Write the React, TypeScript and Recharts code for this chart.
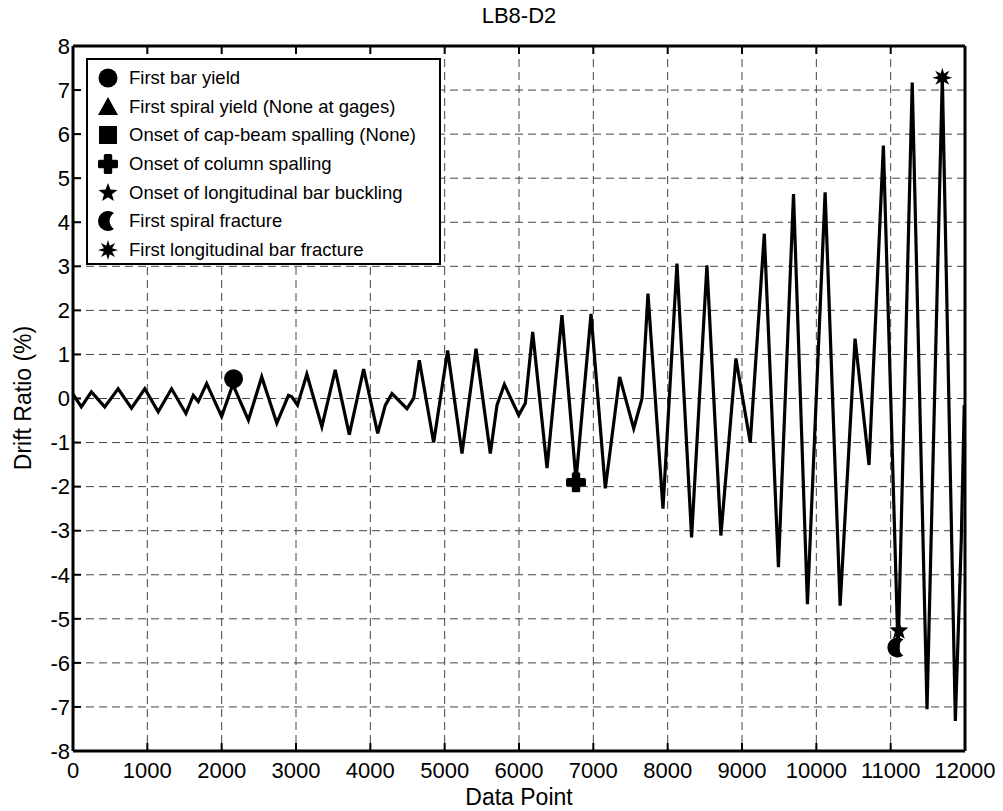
import { ComposedChart, Line, Scatter, XAxis, YAxis, CartesianGrid } from 'recharts';

// turning points of the loading history (data point index, drift ratio %)
const pointIndex = [
  0, 112, 247, 427, 607, 787, 966, 1146, 1326, 1519, 1618, 1685, 1798, 2000, 2150,
  2360, 2539, 2742, 2899, 2944, 3020, 3146, 3348, 3528, 3717, 3910, 4099, 4202, 4291,
  4493, 4583, 4659, 4852, 5040, 5233, 5422, 5614, 5704, 5803, 5996, 6085, 6184, 6377,
  6578, 6767, 6969, 7161, 7354, 7543, 7655, 7735, 7937, 8125, 8322, 8528, 8716, 8918,
  9111, 9300, 9490, 9693, 9880, 10118, 10320, 10521, 10709, 10902, 11100, 11290, 11489,
  11695, 11870, 11950, 11990,
];
const driftRatio = [
  0.1, -0.19, 0.15, -0.19, 0.22, -0.22, 0.22, -0.3, 0.22, -0.34, 0.07, -0.07, 0.34, -0.41, 0.32,
  -0.49, 0.49, -0.56, 0.07, 0.04, -0.15, 0.55, -0.64, 0.65, -0.82, 0.67, -0.79, -0.15, 0.11,
  -0.23, 0.0, 0.87, -1.0, 1.09, -1.25, 1.13, -1.25, -0.15, 0.32, -0.38, -0.11, 1.51, -1.58,
  1.89, -1.85, 1.92, -2.04, 0.49, -0.68, 0.0, 2.38, -2.5, 3.06, -3.15, 3.02, -3.11, 0.91,
  -1.0, 3.74, -3.83, 4.64, -4.67, 4.68, -4.7, 1.36, -1.51, 5.74, -5.75, 7.17, -7.05,
  7.3, -7.32, -3.2, -0.15,
];

// damage events
const legendNames = [
  'First bar yield',
  'First spiral yield (None at gages)',
  'Onset of cap-beam spalling (None)',
  'Onset of column spalling',
  'Onset of longitudinal bar buckling',
  'First spiral fracture',
  'First longitudinal bar fracture',
];
const legendShapes = ['circle', 'triangle', 'square', 'plus', 'star', 'moon', 'asterisk'];
const eventShapes = ['circle', 'plus', 'star', 'moon', 'asterisk'];
const eventX = [2160, 6767, 11110, 11090, 11695];
const eventY = [0.45, -1.9, -5.27, -5.65, 7.28];

const xTicks = [0, 1000, 2000, 3000, 4000, 5000, 6000, 7000, 8000, 9000, 10000, 11000, 12000];
const yTicks = [-8, -7, -6, -5, -4, -3, -2, -1, 0, 1, 2, 3, 4, 5, 6, 7, 8];

const lineRows = pointIndex.map((x, i) => ({ x, drift: driftRatio[i] }));
const eventRows = eventX.map((x, i) => ({ x, drift: eventY[i], shape: eventShapes[i] }));

const FONT = '"Liberation Sans", Arial, Helvetica, sans-serif';

function starPoints(cx: number, cy: number, n: number, ro: number, ri: number) {
  const pts: string[] = [];
  for (let i = 0; i < n * 2; i++) {
    const a = -Math.PI / 2 + (i * Math.PI) / n;
    const r = i % 2 === 0 ? ro : ri;
    pts.push(`${cx + r * Math.cos(a)},${cy + r * Math.sin(a)}`);
  }
  return pts.join(' ');
}

function Glyph({ shape, cx, cy, s = 10 }: { shape: string; cx: number; cy: number; s?: number }) {
  switch (shape) {
    case 'circle':
      return <circle cx={cx} cy={cy} r={s * 0.95} fill="#000" />;
    case 'triangle':
      return <polygon points={`${cx},${cy - s} ${cx + s},${cy + s * 0.8} ${cx - s},${cy + s * 0.8}`} fill="#000" />;
    case 'square':
      return <rect x={cx - s * 0.9} y={cy - s * 0.9} width={s * 1.8} height={s * 1.8} fill="#000" />;
    case 'plus':
      return (
        <g fill="#000">
          <rect x={cx - s} y={cy - s * 0.42} width={s * 2} height={s * 0.84} rx={1.5} />
          <rect x={cx - s * 0.42} y={cy - s} width={s * 0.84} height={s * 2} rx={1.5} />
        </g>
      );
    case 'star':
      return <polygon points={starPoints(cx, cy, 5, s, s * 0.42)} fill="#000" />;
    case 'moon':
      return (
        <path
          d={`M ${cx + 6} ${cy - 8} A 10 10 0 1 0 ${cx + 6} ${cy + 8} A 9.5 9.5 0 0 1 ${cx + 6} ${cy - 8} Z`}
          fill="#000"
        />
      );
    case 'asterisk':
      return <polygon points={starPoints(cx, cy, 8, s, s * 0.45)} fill="#000" />;
    default:
      return null;
  }
}

const tickStyle = { fontSize: 22, fill: '#000', fontFamily: FONT };
const axisLine = { stroke: '#000', strokeWidth: 3 };
const tickLine = { stroke: '#000', strokeWidth: 2 };

export default function App() {
  return (
    <div style={{ position: 'absolute', left: 0, top: 0, width: 1003, height: 811, background: '#fff', fontFamily: FONT }}>
      <ComposedChart width={1003} height={811} data={lineRows} margin={{ top: 26, right: 18, bottom: 10, left: 13 }}>
        <CartesianGrid stroke="#444" strokeWidth={1} strokeDasharray="8 5" />
        <XAxis
          dataKey="x"
          type="number"
          domain={[0, 12000]}
          ticks={xTicks}
          interval={0}
          height={50}
          tick={tickStyle}
          tickSize={-8}
          tickMargin={19}
          axisLine={axisLine}
          tickLine={tickLine}
          allowDataOverflow
        />
        <XAxis
          xAxisId="top"
          orientation="top"
          dataKey="x"
          type="number"
          domain={[0, 12000]}
          ticks={xTicks}
          interval={0}
          height={20}
          tickFormatter={() => ''}
          tickSize={-8}
          axisLine={axisLine}
          tickLine={tickLine}
        />
        <YAxis
          type="number"
          domain={[-8, 8]}
          ticks={yTicks}
          interval={0}
          width={60}
          tick={tickStyle}
          tickSize={-8}
          tickMargin={11}
          axisLine={axisLine}
          tickLine={tickLine}
          allowDataOverflow
        />
        <YAxis
          yAxisId="right"
          orientation="right"
          type="number"
          domain={[-8, 8]}
          ticks={yTicks}
          interval={0}
          width={20}
          tickFormatter={() => ''}
          tickSize={-8}
          axisLine={axisLine}
          tickLine={tickLine}
        />
        <Line
          type="linear"
          dataKey="drift"
          stroke="#000"
          strokeWidth={3.2}
          dot={false}
          activeDot={false}
          isAnimationActive={false}
        />
        <Scatter
          data={eventRows}
          dataKey="drift"
          isAnimationActive={false}
          shape={(p: any) => <Glyph shape={p.payload.shape} cx={p.cx} cy={p.cy} />}
        />
      </ComposedChart>

      <div style={{ position: 'absolute', left: 73, width: 892, top: 3, lineHeight: '26px', fontSize: 22, textAlign: 'center' }}>
        LB8-D2
      </div>
      <div style={{ position: 'absolute', left: 73, width: 892, top: 784, lineHeight: '26px', fontSize: 23, textAlign: 'center' }}>
        Data Point
      </div>
      <div
        style={{
          position: 'absolute', left: 23 - 150, top: 398 - 13, width: 300, lineHeight: '26px', fontSize: 23,
          textAlign: 'center', transform: 'rotate(-90deg)',
        }}
      >
        Drift Ratio (%)
      </div>

      <div
        style={{
          position: 'absolute', left: 86, top: 58, width: 355, height: 207, boxSizing: 'border-box',
          border: '2px solid #000', background: '#fff', paddingTop: 4,
        }}
      >
        {legendNames.map((name, i) => (
          <div key={name} style={{ display: 'flex', alignItems: 'center', height: 28.6 }}>
            <svg width={24} height={24} style={{ marginLeft: 8, flex: 'none' }}>
              <Glyph shape={legendShapes[i]} cx={12} cy={12} />
            </svg>
            <span style={{ marginLeft: 9, fontSize: 18.5, whiteSpace: 'nowrap' }}>{name}</span>
          </div>
        ))}
      </div>
    </div>
  );
}
